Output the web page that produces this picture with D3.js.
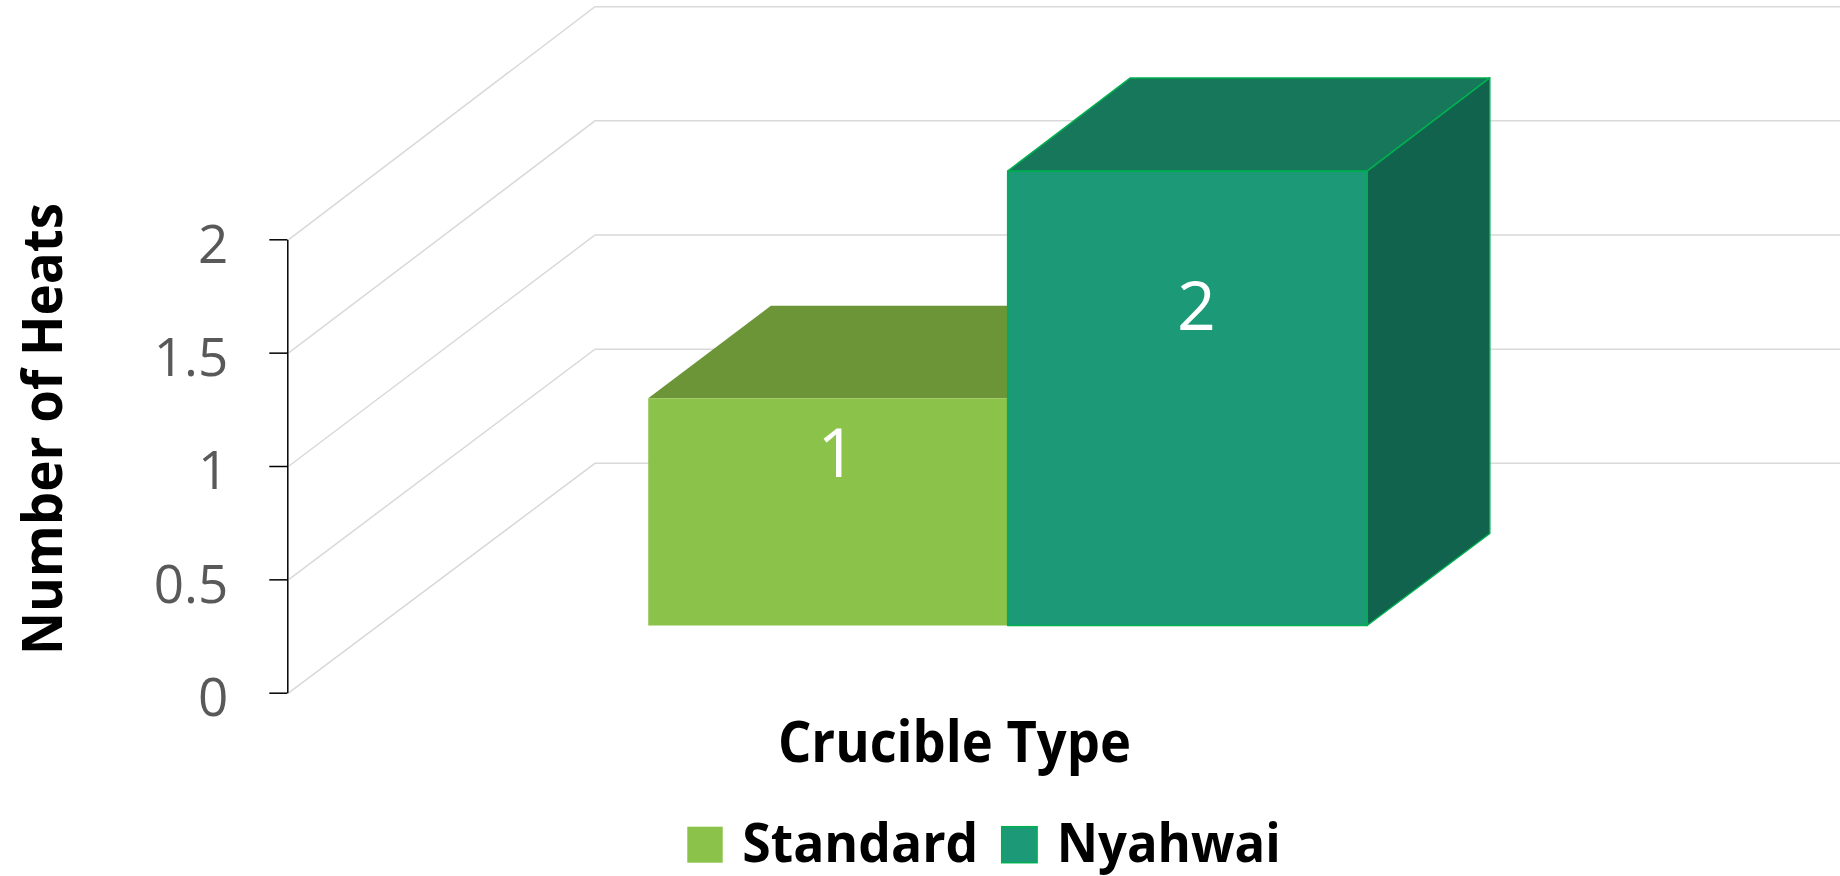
<!DOCTYPE html>
<html>
<head>
<meta charset="utf-8">
<script src="https://cdn.jsdelivr.net/npm/d3@7"></script>
<style>
  html, body { margin: 0; padding: 0; background: #fff; }
  svg { display: block; font-family: "Open Sans", "Liberation Sans", sans-serif; }
</style>
</head>
<body>
<svg id="chart" width="1840" height="876"></svg>
<script>
// data
var categories = ['Crucible Type'];
var series = ['Standard', 'Nyahwai'];
var values = [1, 2];
var yTicks = [0, 0.5, 1, 1.5, 2];
var tickLabels = ['0', '0.5', '1', '1.5', '2'];

// styles
var frontColors = ['#8BC34A', '#1C9A78'];
var topColors = ['#6B9536', '#17775B'];
var sideColors = ['#5F8630', '#12634E'];
var edgeColors = ['none', '#00B050'];

var svg = d3.select('#chart');

// oblique 3d box: front wall at depth 0, back wall at depth 1
var wallLeft = 289, wallRight = 1547, depthDX = 306;
var yFront = d3.scaleLinear().domain([0, 2]).range([692.7, 239.3]);
var yBack = d3.scaleLinear().domain([0, 2]).range([463.3, 6.7]);
var barT0 = 0.293, barT1 = 0.694;

function proj(x, v, t) {
  return [x + t * depthDX, yFront(v) * (1 - t) + yBack(v) * t];
}

var x0 = d3.scaleBand().domain(categories).range([wallLeft, wallRight]).paddingOuter(0.375);
var x1 = d3.scaleBand().domain(series).range([0, x0.bandwidth()]);

// gridlines: side wall diagonal + back wall horizontal
svg.append('g').attr('class', 'grid')
  .selectAll('path')
  .data(yTicks)
  .enter()
  .append('path')
  .attr('d', function (d) {
    return d3.line()([proj(wallLeft, d, 0), proj(wallLeft, d, 1), proj(wallRight, d, 1)]);
  })
  .attr('fill', 'none')
  .attr('stroke', '#d9d9d9')
  .attr('stroke-width', 1.5);

// y axis
var yAxis = d3.axisLeft(yFront)
  .tickValues(yTicks)
  .tickFormat(function (d, i) { return tickLabels[i]; })
  .tickSize(18)
  .tickSizeOuter(0)
  .tickPadding(41);

var axisG = svg.append('g')
  .attr('transform', 'translate(287.3,0)')
  .call(yAxis);
axisG.select('.domain').attr('stroke', '#000').attr('stroke-width', 1.5);
axisG.selectAll('.tick line').attr('stroke', '#000').attr('stroke-width', 1.5);
axisG.selectAll('.tick text')
  .attr('fill', '#595959')
  .attr('font-size', 53)
  .attr('font-family', '"Open Sans", sans-serif')
  .attr('dy', '0.43em');

// bars
var bars = series.map(function (s, i) {
  return { name: s, value: values[i], i: i };
});

var barG = svg.append('g').attr('class', 'bars')
  .selectAll('g')
  .data(bars)
  .enter()
  .append('g');

function face(pts) { return d3.line()(pts) + 'Z'; }

barG.append('path')
  .attr('d', function (d) {
    var xl = x0(categories[0]) + x1(d.name), xr = xl + x1.bandwidth();
    return face([proj(xl, d.value, barT0), proj(xl, d.value, barT1), proj(xr, d.value, barT1), proj(xr, d.value, barT0)]);
  })
  .attr('fill', function (d) { return topColors[d.i]; })
  .attr('stroke', function (d) { return edgeColors[d.i]; })
  .attr('stroke-width', 1.5)
  .attr('stroke-linejoin', 'round');

barG.append('path')
  .attr('d', function (d) {
    var xr = x0(categories[0]) + x1(d.name) + x1.bandwidth();
    return face([proj(xr, 0, barT0), proj(xr, d.value, barT0), proj(xr, d.value, barT1), proj(xr, 0, barT1)]);
  })
  .attr('fill', function (d) { return sideColors[d.i]; })
  .attr('stroke', function (d) { return edgeColors[d.i]; })
  .attr('stroke-width', 1.5)
  .attr('stroke-linejoin', 'round');

barG.append('path')
  .attr('d', function (d) {
    var xl = x0(categories[0]) + x1(d.name), xr = xl + x1.bandwidth();
    return face([proj(xl, 0, barT0), proj(xl, d.value, barT0), proj(xr, d.value, barT0), proj(xr, 0, barT0)]);
  })
  .attr('fill', function (d) { return frontColors[d.i]; })
  .attr('stroke', function (d) { return edgeColors[d.i]; })
  .attr('stroke-width', 1.5)
  .attr('stroke-linejoin', 'round');

// data labels
barG.append('text')
  .text(function (d) { return d.value; })
  .attr('x', function (d) {
    var xl = x0(categories[0]) + x1(d.name);
    return proj(xl + x1.bandwidth() / 2, 0, barT0)[0] + 9;
  })
  .attr('y', function (d) {
    var top = proj(0, d.value, barT0)[1], bottom = proj(0, 0, barT0)[1];
    return top + 0.355 * (bottom - top) - 26 + 24;
  })
  .attr('text-anchor', 'middle')
  .attr('fill', '#fff')
  .attr('font-size', 68);

// axis titles
svg.append('text')
  .attr('transform', 'translate(61.7,429) rotate(-90)')
  .attr('text-anchor', 'middle')
  .attr('font-weight', 'bold')
  .attr('font-size', 56)
  .attr('textLength', 452)
  .attr('lengthAdjust', 'spacingAndGlyphs')
  .text('Number of Heats');

svg.append('text')
  .attr('x', 954.4)
  .attr('y', 762.3)
  .attr('text-anchor', 'middle')
  .attr('font-weight', 'bold')
  .attr('font-size', 57)
  .attr('textLength', 353)
  .attr('lengthAdjust', 'spacingAndGlyphs')
  .text(categories[0]);

// legend
var legendX = [687.3, 1001.7];
var legendTextLen = [236, 224];
var legend = svg.append('g').attr('class', 'legend')
  .selectAll('g')
  .data(bars)
  .enter()
  .append('g')
  .attr('transform', function (d) { return 'translate(' + legendX[d.i] + ',826.7)'; });

legend.append('rect')
  .attr('width', 35.4)
  .attr('height', 36)
  .attr('fill', function (d) { return frontColors[d.i]; })
  .attr('stroke', function (d) { return edgeColors[d.i]; })
  .attr('stroke-width', 1.5);

legend.append('text')
  .attr('x', 55)
  .attr('y', 34.8)
  .attr('font-weight', 'bold')
  .attr('font-size', 53)
  .attr('textLength', function (d) { return legendTextLen[d.i]; })
  .attr('lengthAdjust', 'spacingAndGlyphs')
  .text(function (d) { return d.name; });
</script>
</body>
</html>
